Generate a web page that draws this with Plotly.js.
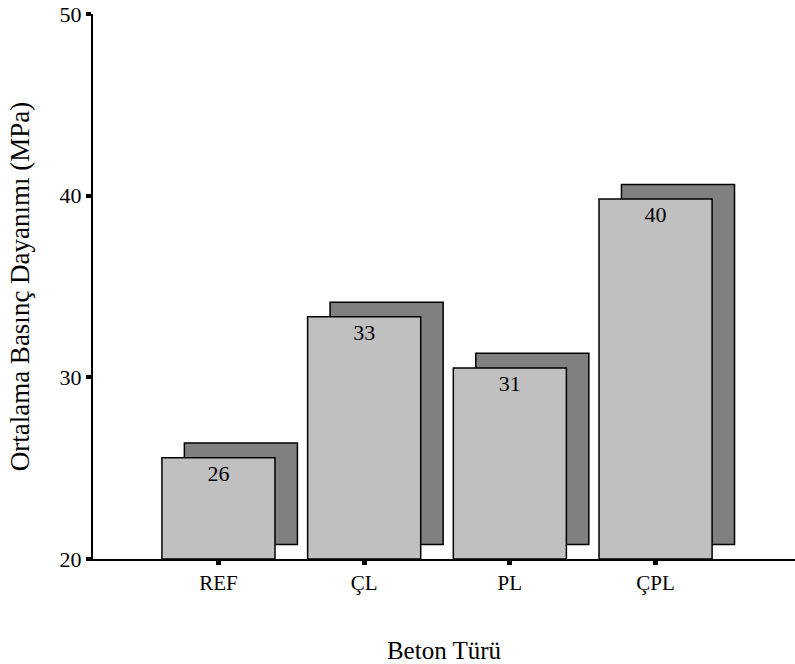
<!DOCTYPE html>
<html>
<head>
<meta charset="utf-8">
<script src="https://cdn.plot.ly/plotly-3.0.1.min.js"></script>
<style>html,body{margin:0;padding:0;background:#fff;}#chart{width:795px;height:664px;}</style>
</head>
<body>
<div id="chart"></div>
<script>
const categories = ['REF', 'ÇL', 'PL', 'ÇPL'];
const strengths = [25.58, 33.33, 30.52, 39.82];
const barLabels = ['26', '33', '31', '40'];
const axisBase = 20;
const shadowLift = 0.8;

const xPos = categories.map((c, i) => i);
const barW = 0.776;
const shadowDx = 0.154;

const shadow = {
  type: 'bar',
  x: xPos,
  y: strengths.map(v => v - axisBase),
  base: strengths.map(() => axisBase + shadowLift),
  width: barW,
  offset: -barW / 2 + shadowDx,
  marker: {color: '#808080', line: {color: '#000', width: 1.5}},
  hoverinfo: 'skip',
  showlegend: false
};
const front = {
  type: 'bar',
  x: xPos,
  y: strengths.map(v => v - axisBase),
  base: strengths.map(() => axisBase),
  width: barW,
  offset: -barW / 2,
  text: barLabels,
  textposition: 'inside',
  insidetextanchor: 'end',
  textfont: {family: 'Liberation Serif', size: 22, color: '#000'},
  marker: {color: '#c0c0c0', line: {color: '#000', width: 1.5}},
  showlegend: false
};

const layout = {
  width: 795, height: 664,
  margin: {l: 93, r: 0, t: 14, b: 105},
  paper_bgcolor: '#fff', plot_bgcolor: '#fff',
  barmode: 'overlay',
  font: {family: 'Liberation Serif', color: '#000'},
  xaxis: {
    range: [-0.861, 3.957],
    tickmode: 'array', tickvals: xPos, ticktext: categories,
    ticks: 'outside', ticklen: 4, tickwidth: 5, tickcolor: '#000',
    showline: true, linecolor: '#000', linewidth: 2,
    showgrid: false, zeroline: false,
    tickfont: {family: 'Liberation Serif', size: 21, color: '#000'},
    title: {text: 'Beton Türü', font: {family: 'Liberation Serif', size: 25, color: '#000'}, standoff: 47}
  },
  yaxis: {
    range: [20, 50],
    tickmode: 'array', tickvals: [20, 30, 40, 50],
    ticks: 'outside', ticklen: 5, tickwidth: 4, tickcolor: '#000',
    showline: true, linecolor: '#000', linewidth: 2,
    showgrid: false, zeroline: false,
    tickfont: {family: 'Liberation Serif', size: 22, color: '#000'},
    title: {text: 'Ortalama Basınç Dayanımı (MPa)', font: {family: 'Liberation Serif', size: 27, color: '#000'}, standoff: 22}
  }
};

Plotly.newPlot('chart', [shadow, front], layout, {displayModeBar: false, staticPlot: true});
</script>
</body>
</html>
